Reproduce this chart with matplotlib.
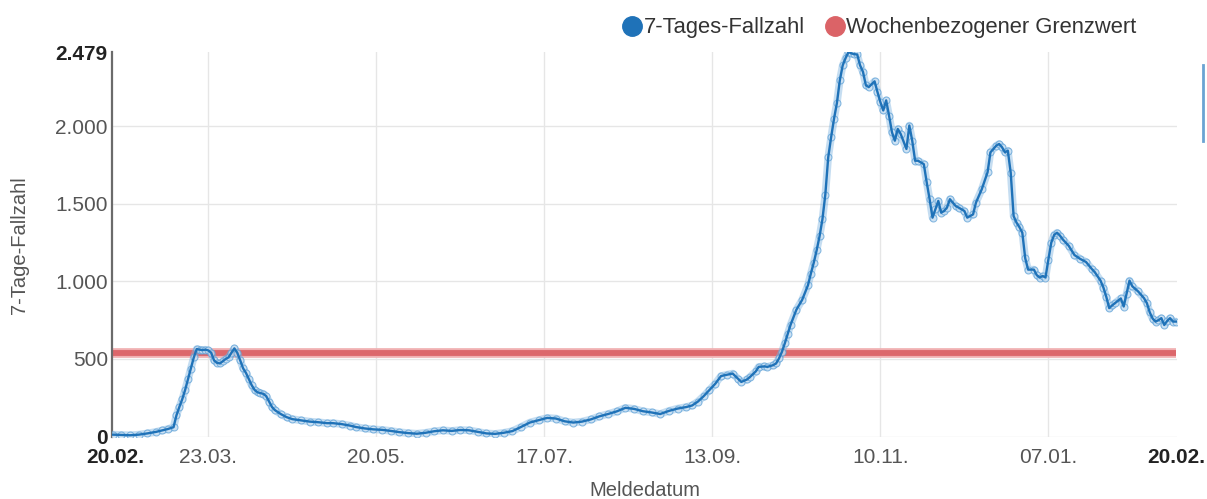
import matplotlib
matplotlib.use("Agg")
import matplotlib.pyplot as plt
from matplotlib.lines import Line2D

plt.rcParams['font.family'] = ['Liberation Sans', 'DejaVu Sans']

# ---- data (days since 20.02.2020, 7-day case count) ----
days = [-1, 2, 5, 8, 11, 14, 16, 18, 20, 21, 22, 23, 24, 25, 26, 27, 28, 29, 30, 31,
        32, 33, 34, 35, 36, 37, 38, 39, 40, 41, 42, 43, 44, 45, 46, 47, 48, 49, 50, 51,
        52, 53, 54, 55, 57, 59, 61, 64, 67, 70, 73, 75, 78, 81, 83, 86, 89, 92, 95, 98,
        101, 104, 107, 110, 113, 116, 119, 122, 125, 128, 131, 134, 137, 140, 143, 146,
        149, 152, 155, 158, 161, 164, 167, 170, 173, 176, 179, 182, 185, 188, 191, 194,
        197, 199, 201, 203, 205, 207, 209, 211, 213, 215, 216, 218, 219, 221, 222, 224,
        225, 227, 228, 229, 230, 231, 232, 233, 235, 237, 239, 240, 241, 242, 243, 244,
        245, 246, 247, 248, 249, 250, 251, 252, 253, 254, 255, 256, 257, 258, 259, 260,
        262, 263, 264, 265, 266, 267, 268, 269, 270, 271, 273, 274, 275, 276, 277, 279,
        280, 281, 282, 283, 284, 285, 286, 287, 288, 290, 291, 293, 294, 296, 297, 299,
        301, 302, 304, 305, 306, 307, 308, 309, 310, 311, 312, 313, 314, 315, 317, 318,
        319, 320, 321, 322, 323, 324, 325, 326, 327, 329, 331, 333, 335, 337, 338, 340,
        341, 342, 343, 344, 345, 347, 348, 349, 350, 351, 353, 355, 356, 357, 358, 359,
        360, 361, 362, 363, 364, 365, 366]
cases = [12, 10, 8, 12, 20, 30, 39, 48, 60, 136, 190, 240, 300, 370, 438, 510, 564, 560, 557, 560,
         555, 540, 490, 475, 471, 485, 500, 510, 540, 568, 540, 492, 440, 410, 370, 330, 300, 285, 280, 275,
         260, 225, 190, 170, 145, 125, 112, 104, 96, 92, 86, 86, 80, 70, 61, 52, 46, 43, 36, 28,
         22, 18, 24, 34, 40, 36, 42, 40, 30, 20, 17, 24, 35, 62, 90, 105,
         120, 116, 98, 90, 96, 110, 130, 145, 162, 185, 178, 163, 155, 145, 165, 180,
         190, 200, 225, 260, 300, 340, 390, 398, 406, 370, 352, 368, 384, 420, 449, 452,
         449, 460, 471, 503, 545, 600, 660, 720, 817, 881, 975, 1050, 1120, 1200, 1290, 1400,
         1560, 1800, 1929, 2048, 2150, 2296, 2393, 2440, 2479, 2470, 2465, 2463, 2393, 2351, 2264, 2253,
         2290, 2221, 2156, 2102, 2167, 2069, 1962, 1907, 1983, 1951, 1854, 2005, 1907, 1778, 1778, 1756,
         1638, 1530, 1411, 1465, 1519, 1443, 1454, 1476, 1530, 1486, 1476, 1454, 1411, 1432, 1508, 1594,
         1703, 1832, 1875, 1886, 1865, 1832, 1843, 1700, 1421, 1379, 1350, 1314, 1150, 1076, 1076, 1040,
         1025, 1035, 1025, 1141, 1250, 1300, 1314, 1295, 1270, 1230, 1170, 1145, 1125, 1080, 1060, 1005,
         960, 900, 828, 845, 860, 890, 838, 920, 1005, 968, 935, 892, 860, 800, 760, 741,
         750, 763, 719, 745, 763, 741, 741]

grenz_days = [-1, 366]
grenzwert = 541

tick_days = [0, 32, 90, 148, 206, 264, 322, 366]
tick_labels = ["20.02.", "23.03.", "20.05.", "17.07.", "13.09.", "10.11.", "07.01.", "20.02."]
ytick_vals = [0, 500, 1000, 1500, 2000, 2479]
ytick_labels = ["0", "500", "1.000", "1.500", "2.000", "2.479"]

series_names = ["7-Tages-Fallzahl", "Wochenbezogener Grenzwert"]
blue = "#1f72b8"
red = "#db6367"

# ---- figure ----
W, H = 1207, 499
fig = plt.figure(figsize=(W / 100, H / 100), dpi=100)
left_px, right_px, top_px, bottom_px = 112, 1177, 52, 436.5
ax = fig.add_axes([left_px / W, 1 - bottom_px / H, (right_px - left_px) / W, (bottom_px - top_px) / H])

ax.set_xlim(-1.24, 366.4)
ax.set_ylim(0, 2479)

# grid lines
for d in tick_days[1:-1]:
    ax.axvline(d, color="#e6e6e6", lw=1.0, zorder=0)
for v in ytick_vals[:-1]:
    ax.axhline(v, color="#e6e6e6", lw=1.0, zorder=0)

# red limit line
ax.plot(grenz_days, [grenzwert] * len(grenz_days), color="#f0b0b2", lw=7.0, solid_capstyle="butt", zorder=2)
ax.plot(grenz_days, [grenzwert] * len(grenz_days), color=red, lw=4.2, alpha=0.95, solid_capstyle="butt", zorder=2)

# blue series
ax.plot(days, cases, color="#7fb4e0", lw=5.5, alpha=0.45, zorder=3, solid_joinstyle="round")
ax.plot(days, cases, linestyle="none", marker="o", ms=5, mfc="#cfe3f4", mec="#5b9fd6",
        mew=0.8, alpha=0.7, zorder=4)
ax.plot(days, cases, color=blue, lw=1.7, zorder=5, solid_joinstyle="round")

# axes styling
for s in ["top", "right", "bottom"]:
    ax.spines[s].set_visible(False)
ax.spines["left"].set_color("#6b6b6b")
ax.spines["left"].set_linewidth(1.6)

ax.set_xticks(tick_days)
ax.set_xticklabels(tick_labels)
ax.set_yticks(ytick_vals)
ax.set_yticklabels(ytick_labels)
ax.tick_params(axis="both", length=0, labelsize=15, colors="#555555")
ax.tick_params(axis="x", pad=8)
ax.tick_params(axis="y", pad=3)
for lab in [ax.get_xticklabels()[0], ax.get_xticklabels()[-1], ax.get_yticklabels()[0], ax.get_yticklabels()[-1]]:
    lab.set_fontweight("bold")
    lab.set_color("#222222")

# axis titles
fig.text(20 / W, 1 - 245 / H, "7-Tage-Fallzahl", rotation=90, ha="center", va="center",
         fontsize=14.5, color="#555555")
fig.text(645 / W, 1 - 491 / H, "Meldedatum", ha="center", va="center", fontsize=14.5, color="#555555")

# legend
handles = [Line2D([], [], linestyle="none", marker="o", ms=14, color=blue),
           Line2D([], [], linestyle="none", marker="o", ms=14, color=red)]
fig.legend(handles, series_names, loc="center", bbox_to_anchor=(879 / W, 1 - 28 / H), ncol=2,
           frameon=False, fontsize=15.8, handletextpad=0.0, columnspacing=0.9, handlelength=1.0,
           labelcolor="#333333")

# small vertical bar at the right edge
fig.add_artist(Line2D([1203 / W, 1203 / W], [1 - 65 / H, 1 - 141 / H], color="#6aa3d3", lw=2.0,
                      transform=fig.transFigure))

fig.savefig("out.png", dpi=100)
